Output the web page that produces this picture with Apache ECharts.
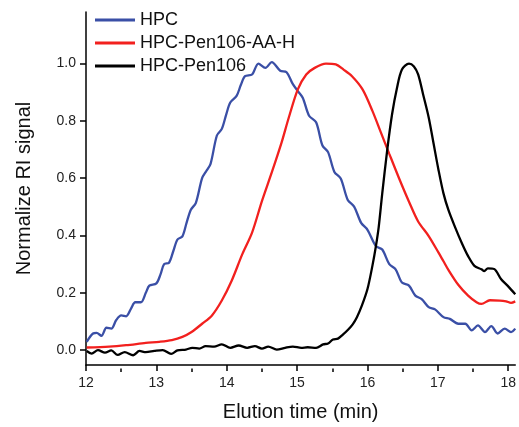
<!DOCTYPE html>
<html>
<head>
<meta charset="utf-8">
<script src="https://cdn.jsdelivr.net/npm/echarts@6/dist/echarts.min.js"></script>
<style>html,body{margin:0;padding:0;background:#fff;}#c{width:519px;height:427px;}</style>
</head>
<body>
<div id="c"></div>
<script>
const seriesNames = ['HPC', 'HPC-Pen106-AA-H', 'HPC-Pen106'];
const xTicks = [12, 13, 14, 15, 16, 17, 18];
const xMinorTicks = [12.5, 13.5, 14.5, 15.5, 16.5, 17.5];
const yTicks = [0, 0.2, 0.4, 0.6, 0.8, 1.0];

const hpcTime = [12.01,12.10,12.15,12.22,12.29,12.36,12.43,12.50,12.57,12.64,12.70,12.78,12.85,12.90,13.00,13.06,13.11,13.18,13.24,13.30,13.37,13.43,13.49,13.56,13.65,13.71,13.77,13.86,13.93,13.99,14.05,14.14,14.20,14.26,14.36,14.45,14.55,14.64,14.76,14.85,14.94,15.01,15.08,15.17,15.27,15.36,15.44,15.53,15.62,15.72,15.81,15.91,16.00,16.12,16.21,16.31,16.40,16.49,16.59,16.68,16.77,16.87,16.96,17.08,17.17,17.29,17.39,17.48,17.57,17.67,17.76,17.85,17.95,18.04,18.10];
const hpcSignal = [0.029,0.058,0.060,0.050,0.078,0.075,0.105,0.121,0.118,0.145,0.167,0.167,0.200,0.225,0.233,0.265,0.300,0.305,0.345,0.386,0.397,0.445,0.490,0.513,0.600,0.625,0.650,0.749,0.772,0.820,0.864,0.887,0.925,0.956,0.962,1.000,0.985,1.005,0.975,0.970,0.928,0.904,0.881,0.818,0.795,0.714,0.691,0.622,0.599,0.524,0.501,0.444,0.420,0.363,0.351,0.300,0.282,0.236,0.225,0.190,0.178,0.150,0.142,0.115,0.109,0.092,0.092,0.069,0.086,0.063,0.084,0.058,0.075,0.063,0.075];

const aaTime = [12.01,12.33,12.57,12.85,13.04,13.22,13.37,13.50,13.65,13.79,13.93,14.07,14.22,14.36,14.50,14.64,14.78,14.88,15.01,15.13,15.25,15.41,15.55,15.66,15.78,15.93,16.07,16.19,16.31,16.45,16.59,16.72,16.87,17.01,17.08,17.15,17.29,17.43,17.55,17.62,17.74,17.88,17.97,18.04,18.10];
const aaSignal = [0.009,0.012,0.017,0.025,0.029,0.035,0.046,0.063,0.092,0.121,0.173,0.242,0.334,0.410,0.520,0.620,0.725,0.810,0.910,0.962,0.985,1.000,0.997,0.979,0.956,0.910,0.835,0.760,0.685,0.599,0.518,0.449,0.398,0.340,0.310,0.280,0.228,0.190,0.167,0.161,0.174,0.173,0.170,0.165,0.170];

const penTime = [12.01,12.08,12.17,12.27,12.36,12.45,12.55,12.67,12.76,12.85,12.97,13.09,13.21,13.30,13.42,13.51,13.61,13.70,13.82,13.93,14.05,14.17,14.29,14.40,14.50,14.59,14.71,14.83,14.94,15.06,15.15,15.27,15.37,15.44,15.51,15.58,15.65,15.72,15.79,15.85,15.92,16.00,16.07,16.12,16.16,16.21,16.28,16.35,16.42,16.49,16.59,16.66,16.72,16.79,16.87,16.94,17.01,17.08,17.15,17.24,17.34,17.43,17.52,17.62,17.66,17.71,17.80,17.90,17.99,18.10];
const penSignal = [-0.003,-0.012,0.000,-0.009,-0.001,-0.017,-0.007,-0.018,-0.003,-0.007,-0.003,0.000,-0.013,-0.001,0.002,0.008,0.005,0.014,0.012,0.020,0.008,0.016,0.008,0.014,0.005,0.012,0.002,0.008,0.012,0.008,0.010,0.008,0.020,0.023,0.037,0.040,0.054,0.070,0.090,0.115,0.155,0.213,0.294,0.363,0.430,0.547,0.697,0.824,0.916,0.979,1.000,0.990,0.962,0.893,0.812,0.720,0.628,0.547,0.489,0.432,0.374,0.328,0.294,0.282,0.276,0.285,0.283,0.247,0.225,0.195];

const colors = ['#3a4fa6', '#f2201e', '#000000'];
const zip = (a, b) => a.map((v, i) => [v, b[i]]);
const FONT = '"Liberation Sans", Arial, sans-serif';
const GRID_TOP = 12, GRID_BOTTOM = 58.6, H = 427;

const chart = echarts.init(document.getElementById('c'), null, {renderer: 'canvas'});
const mk = (name, t, s, c) => ({
  name, type: 'line', data: zip(t, s), symbol: 'none', showSymbol: false,
  smooth: 0.3, lineStyle: {color: c, width: 2.3}, itemStyle: {color: c}, xAxisIndex: 0
});
chart.setOption({
  animation: false,
  backgroundColor: '#fff',
  textStyle: {fontFamily: FONT},
  grid: {left: 86, right: 0, top: GRID_TOP, bottom: GRID_BOTTOM, containLabel: false},
  legend: {
    orient: 'vertical', left: 90, top: 6, icon: 'rect', itemWidth: 40, itemHeight: 3, itemGap: 5,
    textStyle: {fontSize: 18, color: '#111', fontFamily: FONT, lineHeight: 18},
    data: seriesNames
  },
  xAxis: [{
    type: 'value', min: 12, max: 18.1, interval: 1, position: 'bottom',
    name: 'Elution time (min)', nameLocation: 'middle', nameGap: 37,
    nameTextStyle: {fontSize: 20, color: '#111', fontFamily: FONT},
    axisLine: {show: true, onZero: false, lineStyle: {color: '#000', width: 1.5}},
    axisTick: {show: true, inside: false, length: 6, customValues: xTicks, lineStyle: {color: '#000', width: 1.5}},
    axisLabel: {show: true, customValues: xTicks, margin: 11, fontSize: 14, color: '#222', fontFamily: FONT, formatter: v => String(v)},
    splitLine: {show: false}
  }, {
    type: 'value', min: 12, max: 18.1, position: 'top',
    offset: -(H - GRID_TOP - GRID_BOTTOM),
    axisLine: {show: false, onZero: false},
    axisTick: {show: true, inside: true, length: 3.7, customValues: xMinorTicks, lineStyle: {color: '#000', width: 1.5}},
    axisLabel: {show: false},
    splitLine: {show: false}
  }],
  yAxis: {
    type: 'value', min: -0.052, max: 1.18,
    name: 'Normalize RI signal', nameLocation: 'middle', nameGap: 52,
    nameTextStyle: {fontSize: 20, color: '#111', fontFamily: FONT},
    axisLine: {show: true, onZero: false, lineStyle: {color: '#000', width: 1.5}},
    axisTick: {show: true, inside: false, length: 6, customValues: yTicks, lineStyle: {color: '#000', width: 1.5}},
    axisLabel: {show: true, customValues: yTicks, margin: 10, fontSize: 14, color: '#222', fontFamily: FONT, formatter: v => v.toFixed(1)},
    splitLine: {show: false}
  },
  series: [
    mk(seriesNames[0], hpcTime, hpcSignal, colors[0]),
    mk(seriesNames[1], aaTime, aaSignal, colors[1]),
    mk(seriesNames[2], penTime, penSignal, colors[2])
  ]
});
</script>
</body>
</html>
